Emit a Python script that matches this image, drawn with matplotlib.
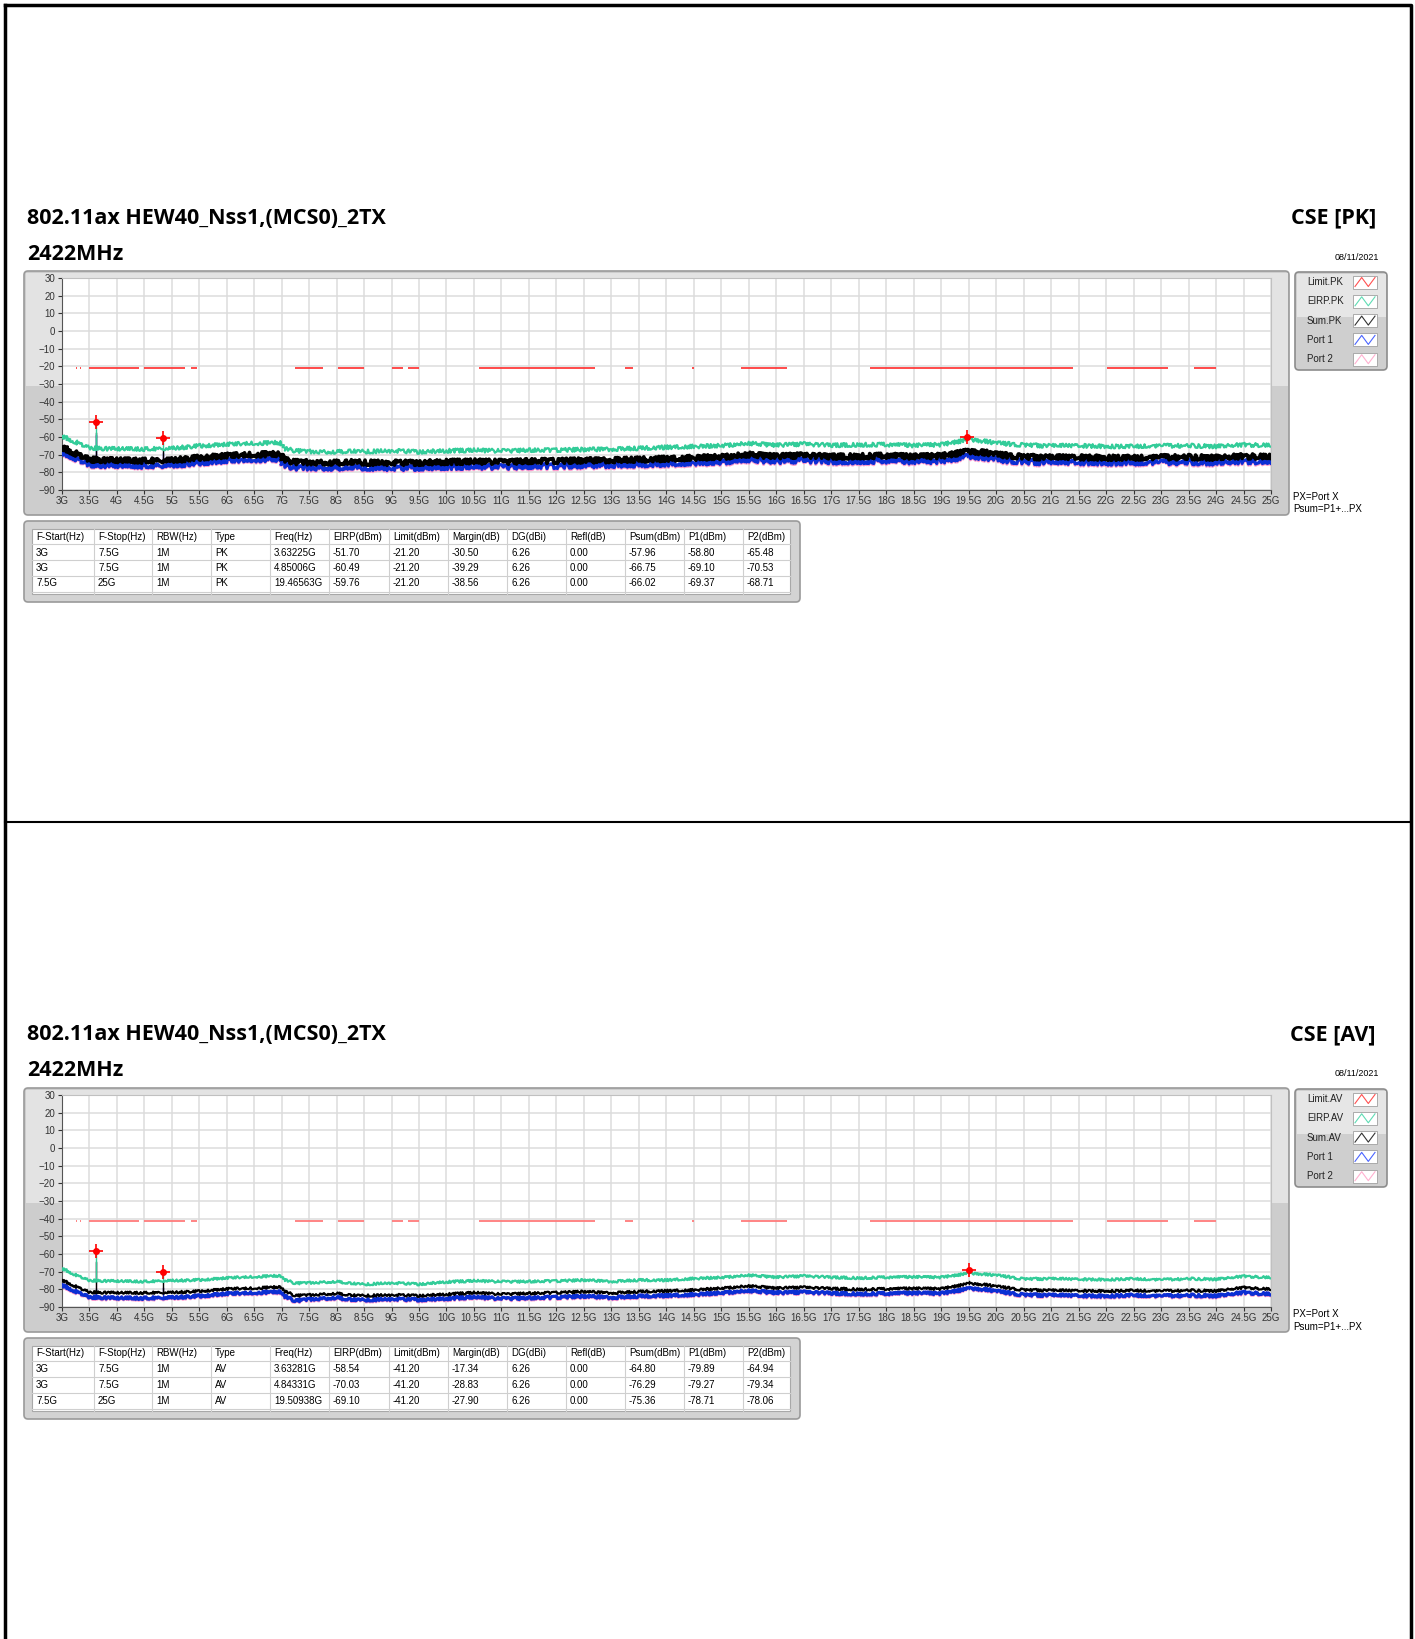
import numpy as np
import matplotlib
matplotlib.use('Agg')
import matplotlib.pyplot as plt
from matplotlib.patches import FancyBboxPatch, Rectangle

W, H = 1415, 1639
plt.rcParams['font.family'] = ['Liberation Sans', 'DejaVu Sans']

title = '802.11ax HEW40_Nss1,(MCS0)_2TX'
channel = '2422MHz'
date = '08/11/2021'

freq = [3.0, 3.25, 3.5, 4.0, 4.5, 5.0, 5.5, 6.0, 6.5, 6.98, 7.05, 7.25, 7.5, 8.0, 8.25, 8.5,
        9.0, 9.5, 10.0, 10.5, 11.0, 11.5, 12.0, 12.5, 13.0, 13.5, 14.0, 14.5, 15.0, 15.5,
        16.0, 16.5, 17.0, 17.5, 18.0, 18.5, 19.0, 19.5, 19.85, 20.0, 20.5, 21.0, 21.5, 22.0,
        22.5, 23.0, 23.5, 24.0, 24.5, 25.0]

eirp_pk = [-59.5, -62.8, -66.2, -66.8, -66.8, -66.5, -65.0, -64.2, -63.6, -63.2, -66.5, -67.8,
           -68.2, -68.4, -68.0, -68.3, -67.8, -68.4, -67.8, -67.5, -67.9, -67.5, -67.4, -67.1,
           -66.9, -66.4, -65.8, -65.4, -64.9, -63.6, -64.7, -64.0, -64.7, -64.4, -64.3, -64.8,
           -64.3, -61.5, -62.6, -63.4, -64.6, -65.0, -64.9, -65.3, -65.4, -65.0, -64.9, -65.3,
           -64.4, -64.8]
sum_pk = [-65.8, -69.3, -72.8, -73.3, -73.4, -73.2, -71.7, -70.6, -70.0, -69.6, -73.0, -74.2,
          -74.3, -74.5, -74.2, -74.5, -74.6, -74.6, -74.1, -73.9, -74.1, -73.7, -73.5, -73.3,
          -73.1, -72.8, -72.3, -71.8, -71.3, -70.0, -71.0, -70.4, -71.1, -70.9, -70.6, -71.1,
          -70.7, -68.2, -69.0, -69.9, -71.3, -71.6, -71.5, -71.7, -71.9, -71.5, -71.4, -71.7,
          -70.9, -71.3]
p1_pk = [-68.5, -72.0, -75.6, -76.2, -76.3, -76.0, -74.5, -73.4, -72.8, -72.4, -76.0, -77.4,
         -77.3, -77.5, -77.1, -77.4, -77.6, -77.5, -77.0, -76.8, -77.0, -76.6, -76.4, -76.1,
         -75.9, -75.6, -75.1, -74.6, -74.1, -72.8, -73.8, -73.2, -73.9, -73.7, -73.4, -73.9,
         -73.5, -71.0, -71.8, -72.7, -74.1, -74.4, -74.3, -74.5, -74.7, -74.3, -74.2, -74.5,
         -73.7, -74.1]
p2_pk = [-68.8, -72.3, -75.9, -76.5, -76.6, -76.3, -74.8, -73.7, -73.1, -72.7, -76.3, -77.7,
         -77.7, -77.9, -77.5, -77.8, -78.0, -77.9, -77.4, -77.2, -77.4, -77.0, -76.8, -76.5,
         -76.3, -76.0, -75.5, -75.0, -74.5, -73.2, -74.2, -73.6, -74.3, -74.1, -73.8, -74.3,
         -73.9, -71.4, -72.2, -73.1, -74.5, -74.8, -74.7, -74.9, -75.1, -74.7, -74.6, -74.9,
         -74.1, -74.5]

eirp_av = [-68.1, -71.8, -75.0, -75.4, -75.6, -75.1, -74.7, -73.6, -72.9, -72.3, -74.5, -76.6,
           -76.3, -75.6, -76.6, -77.2, -76.4, -77.1, -75.8, -75.2, -75.7, -75.6, -75.3, -74.8,
           -75.6, -74.8, -74.8, -73.9, -73.3, -72.0, -73.2, -72.5, -73.2, -73.6, -73.2, -73.0,
           -73.2, -71.0, -71.6, -72.0, -74.2, -74.0, -74.3, -74.5, -74.1, -74.6, -74.0, -74.3,
           -72.6, -73.4]
sum_av = [-74.7, -78.3, -81.6, -82.0, -82.0, -81.8, -81.1, -79.8, -79.4, -78.6, -81.0, -83.6,
          -83.2, -82.3, -83.3, -83.6, -83.2, -83.6, -82.8, -81.9, -82.8, -82.3, -81.9, -81.3,
          -82.1, -81.3, -80.9, -80.4, -79.4, -78.1, -79.4, -78.9, -79.6, -80.0, -79.8, -79.5,
          -79.7, -76.8, -77.5, -78.3, -80.4, -80.6, -80.8, -81.0, -80.7, -81.0, -80.6, -80.9,
          -79.0, -80.0]
p1_av = [-77.5, -81.1, -84.4, -85.0, -85.0, -84.7, -83.8, -82.5, -82.0, -81.3, -83.8, -86.5,
         -85.6, -84.7, -85.8, -86.0, -85.5, -85.9, -85.2, -84.4, -85.3, -84.9, -84.5, -83.9,
         -84.7, -83.9, -83.5, -83.0, -82.0, -80.8, -82.0, -81.6, -82.2, -82.6, -82.4, -82.1,
         -82.3, -79.6, -80.2, -81.0, -83.2, -83.3, -83.6, -83.8, -83.4, -83.8, -83.4, -83.7,
         -81.8, -82.8]
p2_av = [-77.8, -81.4, -84.7, -85.3, -85.3, -85.0, -84.1, -82.8, -82.3, -81.6, -84.1, -86.8,
         -85.9, -85.0, -86.1, -86.3, -85.8, -86.2, -85.5, -84.7, -85.6, -85.2, -84.8, -84.2,
         -85.0, -84.2, -83.8, -83.3, -82.3, -81.1, -82.3, -81.9, -82.5, -82.9, -82.7, -82.4,
         -82.6, -79.9, -80.5, -81.3, -83.5, -83.6, -83.9, -84.1, -83.7, -84.1, -83.7, -84.0,
         -82.1, -83.1]

# limit is drawn only over these bands (GHz)
limit_bands = [(3.26, 3.27), (3.33, 3.36), (3.5, 4.4), (4.5, 5.25), (5.35, 5.46), (7.25, 7.75),
               (8.025, 8.5), (9.0, 9.2), (9.3, 9.5), (10.6, 12.7), (13.25, 13.4), (14.47, 14.5),
               (15.35, 16.2), (17.7, 21.4), (22.01, 23.12), (23.6, 24.0)]
limit_pk = -21.20
limit_av = -41.20

# result tables
f_start = ['3G', '3G', '7.5G']
f_stop = ['7.5G', '7.5G', '25G']
pk_freq = [3.63225, 4.85006, 19.46563]
pk_eirp = [-51.70, -60.49, -59.76]
pk_margin = [-30.50, -39.29, -38.56]
pk_psum = [-57.96, -66.75, -66.02]
pk_p1 = [-58.80, -69.10, -69.37]
pk_p2 = [-65.48, -70.53, -68.71]
av_freq = [3.63281, 4.84331, 19.50938]
av_eirp = [-58.54, -70.03, -69.10]
av_margin = [-17.34, -28.83, -27.90]
av_psum = [-64.80, -76.29, -75.36]
av_p1 = [-79.89, -79.27, -78.71]
av_p2 = [-64.94, -79.34, -78.06]
dg = 6.26
refl = 0.00

headers = ['F-Start(Hz)', 'F-Stop(Hz)', 'RBW(Hz)', 'Type', 'Freq(Hz)', 'EIRP(dBm)', 'Limit(dBm)',
           'Margin(dB)', 'DG(dBi)', 'Refl(dB)', 'Psum(dBm)', 'P1(dBm)', 'P2(dBm)']
col_x = [32, 94, 152, 211, 270, 329, 389, 448, 507, 566, 625, 684, 743, 790]

C_LIM = '#ff3b3b'
C_EIRP = '#33cc99'
C_SUM = '#000000'
C_P1 = '#0b2fd3'
C_P2 = '#ff9ccc'

fig = plt.figure(figsize=(W / 100, H / 100), dpi=100)
bg = fig.add_axes([0, 0, 1, 1])
bg.set_xlim(0, W)
bg.set_ylim(H, 0)
bg.axis('off')


def fbox(x0, y0, x1, y1):
    return [x0 / W, 1 - y1 / H, (x1 - x0) / W, (y1 - y0) / H]


def rbox(x, y, w, h, fc, ec):
    bg.add_patch(FancyBboxPatch((x, y), w, h, boxstyle='round,pad=0,rounding_size=4',
                                fc=fc, ec=ec, lw=1.2))


def block(dy, mode, series, lim, lim_color, pfreq, peirp, pmargin, ppsum, pp1, pp2, styles):
    tfont = dict(family=['Open Sans', 'DejaVu Sans'], fontweight='bold', fontsize=15.5, va='center')
    bg.text(27, 218 + dy, title, **tfont)
    bg.text(27, 254 + dy, channel, **tfont)
    bg.text(1376, 218 + dy, 'CSE [%s]' % mode, ha='right', **tfont)
    bg.text(1379, 257 + dy, date, fontsize=6.5, ha='right', va='center')

    # graph frame
    rbox(24, 271 + dy, 1265, 244, '#cdcdcd', '#9a9a9a')
    bg.add_patch(Rectangle((25.5, 272.5 + dy), 1262, 113, fc='#e3e3e3', ec='none'))

    ax = fig.add_axes(fbox(61.7, 278 + dy, 1271, 490 + dy))
    ax.set_xlim(3, 25)
    ax.set_ylim(-90, 30)
    xt = np.arange(3, 25.01, 0.5)
    ax.set_xticks(xt)
    ax.set_xticklabels(['%gG' % v for v in xt])
    ax.set_yticks(range(-90, 31, 10))
    ax.grid(True, color='#dcdcdc', lw=1.1)
    ax.set_axisbelow(True)
    ax.tick_params(labelsize=7, colors='#333333', length=3, width=0.8, pad=1.5)
    for s in ['top', 'right']:
        ax.spines[s].set_color('#c0c0c0')
    for s in ['left', 'bottom']:
        ax.spines[s].set_color('#555555')
        ax.spines[s].set_linewidth(0.8)

    for a, b in limit_bands:
        ax.plot([a, b], [lim, lim], color=lim_color, lw=1.3, solid_capstyle='butt', zorder=6)

    peaks = [pp2, pp1, ppsum, peirp]
    for (vals, color), (lw, amp), z, pv in zip(series, styles, [2, 3, 4, 5], peaks):
        ln, = ax.plot(freq, vals, color=color, lw=lw, zorder=z, solid_joinstyle='round')
        ln.set_sketch_params(scale=amp, length=1.2, randomness=3)
        for f, p in zip(pfreq, pv):
            base = np.interp(f, freq, vals)
            if p > base:
                ax.plot([f, f], [base, p], color=color, lw=1.0, zorder=z)
    ax.plot(pfreq, peirp, ls='none', marker='+', ms=10, mew=1.2, color='#ff0000', zorder=8)
    ax.plot(pfreq, peirp, ls='none', marker='o', ms=4, color='#ff0000', zorder=8)

    # legend box
    rbox(1295, 272 + dy, 92, 98, '#cfcfcf', '#8c8c8c')
    bg.add_patch(Rectangle((1296.5, 273.5 + dy), 89, 43, fc='#e6e6e6', ec='none'))
    names = ['Limit.' + mode, 'EIRP.' + mode, 'Sum.' + mode, 'Port 1', 'Port 2']
    icol = ['#ff5050', '#5fdcb4', '#333333', '#4a64ff', '#ffb0d0']
    for i, (n, c) in enumerate(zip(names, icol)):
        y = 282 + dy + i * 19.3
        bg.text(1307, y, n, fontsize=7, va='center', color='#222222')
        bg.add_patch(Rectangle((1353, y - 6.5), 24, 13, fc='white', ec='#a0a0a0', lw=0.6))
        bg.plot(1355 + np.array([0, 6.7, 13.3, 20]), y + np.array([4.5, -4.5, 4.5, -4.5]),
                color=c, lw=0.8)

    bg.text(1293, 497 + dy, 'PX=Port X', fontsize=7, va='center')
    bg.text(1293, 509.5 + dy, 'Psum=P1+...PX', fontsize=7, va='center')

    # result table
    rbox(24, 521 + dy, 776, 81, '#d3d3d3', '#9a9a9a')
    bg.add_patch(Rectangle((32, 529 + dy), 758, 65, fc='white', ec='#a8a8a8', lw=0.8))
    for y in [544, 560, 576, 591.5]:
        bg.plot([32, 790], [y + dy, y + dy], color='#cfcfcf', lw=0.8)
    for x in col_x[1:-1]:
        bg.plot([x, x], [529 + dy, 594 + dy], color='#cfcfcf', lw=0.8)
    for j, h in enumerate(headers):
        bg.text(col_x[j] + 4, 536.5 + dy, h, fontsize=7, va='center')
    for i in range(3):
        row = [f_start[i], f_stop[i], '1M', mode, '%.5fG' % pfreq[i], '%.2f' % peirp[i],
               '%.2f' % lim, '%.2f' % pmargin[i], '%.2f' % dg, '%.2f' % refl,
               '%.2f' % ppsum[i], '%.2f' % pp1[i], '%.2f' % pp2[i]]
        for j, t in enumerate(row):
            bg.text(col_x[j] + 4, 552.5 + dy + i * 15.5, t, fontsize=7, va='center')


block(0, 'PK', [(p2_pk, C_P2), (p1_pk, C_P1), (sum_pk, C_SUM), (eirp_pk, C_EIRP)],
      limit_pk, C_LIM, pk_freq, pk_eirp, pk_margin, pk_psum, pk_p1, pk_p2,
      [(2.4, 3.0), (2.2, 2.6), (2.6, 2.6), (1.6, 2.0)])
block(817, 'AV', [(p2_av, C_P2), (p1_av, C_P1), (sum_av, C_SUM), (eirp_av, C_EIRP)],
      limit_av, '#ff7b7b', av_freq, av_eirp, av_margin, av_psum, av_p1, av_p2,
      [(2.2, 1.8), (2.2, 1.4), (1.6, 1.2), (1.6, 1.2)])

# page border and separator
bg.plot([5, 1411, 1411], [5, 5, H], color='black', lw=2.5)
bg.plot([5, 5], [5, H], color='black', lw=2.5)
bg.plot([5, 1411], [822, 822], color='black', lw=1.5)

fig.savefig('out.png', dpi=100)
